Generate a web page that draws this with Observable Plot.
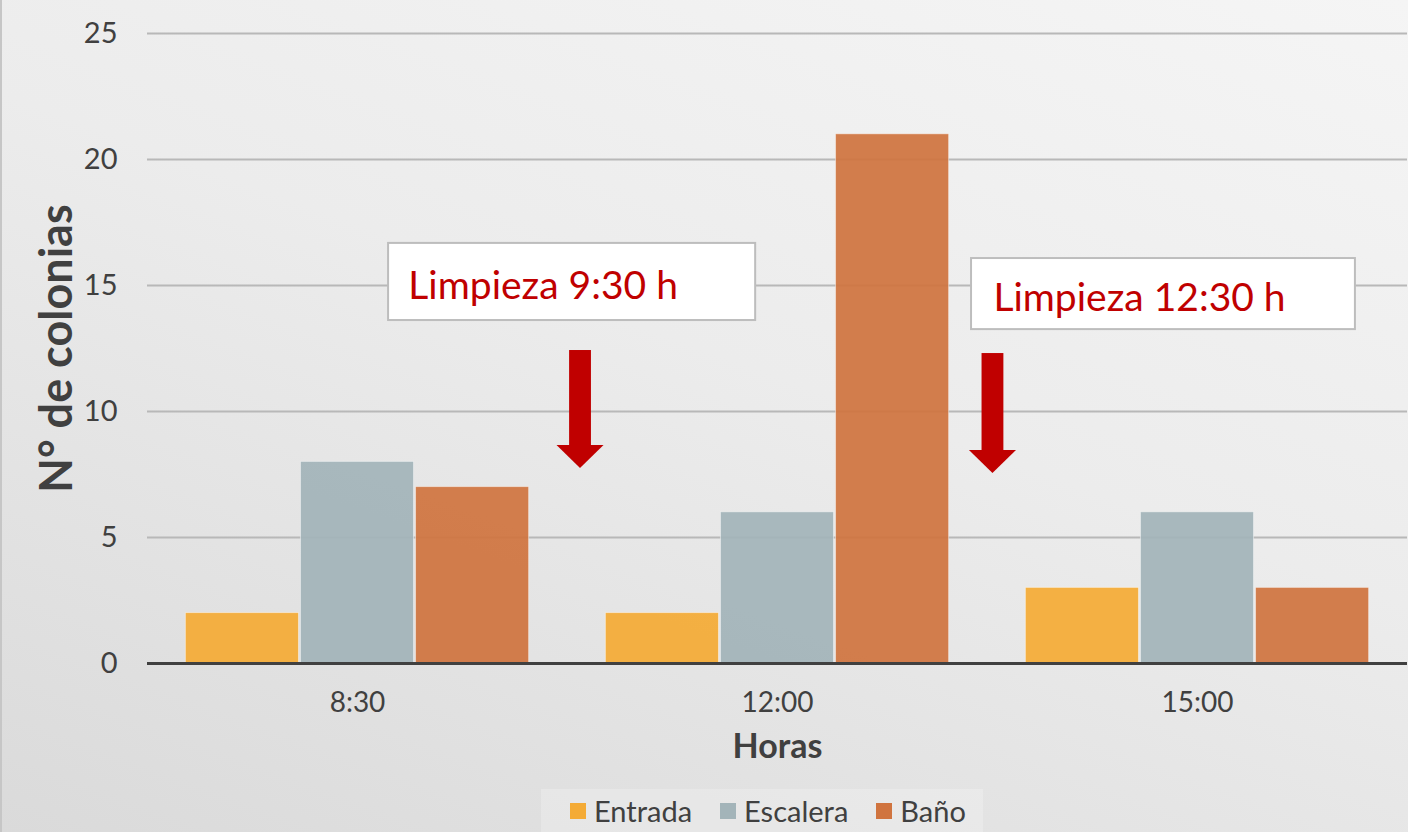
<!DOCTYPE html>
<html lang="es">
<head>
<meta charset="utf-8">
<script src="https://cdn.jsdelivr.net/npm/d3@7"></script>
<script src="https://cdn.jsdelivr.net/npm/@observablehq/plot@0.6"></script>
<style>
  html, body { margin: 0; padding: 0; }
  body {
    width: 1408px;
    height: 832px;
    overflow: hidden;
    font-family: Lato, "Noto Sans", sans-serif;
    color: #404040;
    background: linear-gradient(200deg, #f5f5f5 0%, #ececec 45%, #dadada 100%);
    box-shadow: inset 2px 0 0 #c6c6c6;
  }
  #leyenda {
    margin: 4px 0 0 541px;
    padding-left: 29px;
    box-sizing: border-box;
    width: 442px;
    height: 43px;
    background: rgba(255, 255, 255, 0.22);
    display: flex;
    align-items: center;
    justify-content: flex-start;
    gap: 28px;
    font-size: 29px;
  }
  .item { display: flex; align-items: center; gap: 8px; }
  .muestra { width: 16px; height: 16px; display: inline-block; }
</style>
</head>
<body>
<div id="grafico"></div>
<div id="leyenda"></div>
<script>
// Horas de muestreo y puntos de muestreo
const horas = ["8:30", "12:00", "15:00"];
const lugares = ["Entrada", "Escalera", "Baño"];

// Número de colonias por lugar, en el orden de las horas
const entrada = [2, 2, 3];
const escalera = [8, 6, 6];
const bano = [7, 21, 3];

const colores = ["#f4ab36", "#a3b4b9", "#d0743f"];
const ticksY = [0, 5, 10, 15, 20, 25];

// Avisos de limpieza (posición en unidades de los ejes)
const notas = ["Limpieza 9:30 h", "Limpieza 12:30 h"];
const notaX = [0.121, 1.514];
const notaY = [14.96, 14.5];
const cajaX1 = [0.074, 1.462];
const cajaX2 = [0.948, 2.376];
const cajaY1 = [13.61, 13.25];
const cajaY2 = [16.67, 16.07];

// Flechas hacia abajo entre grupos
const flechaX = [0.531, 1.513];
const flechaInicio = [12.42, 12.3];
const flechaPunta = [7.74, 7.54];

const anchoBarra = 0.274;   // ancho de cada barra dentro del grupo
const medioCuerpo = 0.026;  // medio ancho del cuerpo de la flecha
const medioCabeza = 0.056;  // medio ancho de la cabeza
const largoCabeza = 0.91;   // largo de la cabeza

const series = [entrada, escalera, bano];
const filas = lugares.flatMap((lugar, k) =>
  series[k].map((valor, g) => ({g, k, lugar, hora: horas[g], valor}))
);

const cajas = notas.map((t, i) => ({x1: cajaX1[i], x2: cajaX2[i], y1: cajaY1[i], y2: cajaY2[i]}));
const textos = notas.map((t, i) => ({t, x: notaX[i], y: notaY[i]}));
const cuerpos = flechaX.map((cx, i) => ({
  x1: cx - medioCuerpo, x2: cx + medioCuerpo,
  y1: flechaPunta[i] + largoCabeza, y2: flechaInicio[i]
}));
const cabezas = flechaX.flatMap((cx, i) => {
  const base = flechaPunta[i] + largoCabeza;
  return [
    {id: i, x: cx - medioCabeza, y1: base, y2: base},
    {id: i, x: cx, y1: base, y2: flechaPunta[i]},
    {id: i, x: cx + medioCabeza, y1: base, y2: base}
  ];
});

const chart = Plot.plot({
  width: 1408,
  height: 785,
  marginLeft: 147,
  marginRight: 1,
  marginTop: 33,
  marginBottom: 122,
  style: {background: "transparent", fontFamily: "Lato, 'Noto Sans', sans-serif", color: "#404040"},
  x: {domain: [-0.5, 2.5]},
  y: {domain: [0, 25]},
  color: {domain: lugares, range: colores},
  marks: [
    Plot.gridY(ticksY.slice(1), {stroke: "#b8b8b8", strokeOpacity: 1, strokeWidth: 2}),
    Plot.rectY(filas, {
      x1: d => d.g + (d.k - 1.5) * anchoBarra,
      x2: d => d.g + (d.k - 0.5) * anchoBarra,
      y: "valor",
      fill: "lugar",
      fillOpacity: 0.93,
      stroke: "#ffffff",
      strokeOpacity: 0.45,
      strokeWidth: 1,
      insetLeft: 1,
      insetRight: 1
    }),
    Plot.ruleY([0], {stroke: "#404040", strokeWidth: 3}),
    Plot.axisY(ticksY, {tickSize: 0, tickPadding: 30, fontSize: 29, label: null}),
    Plot.axisX([0, 1, 2], {tickFormat: i => horas[i], tickSize: 0, tickPadding: 29, fontSize: 28, label: null}),
    Plot.text(["N° de colonias"], {
      text: d => d, frameAnchor: "left", textAnchor: "middle", lineAnchor: "middle",
      rotate: -90, dx: -90, fontSize: 45, fontWeight: "bold"
    }),
    Plot.text(["Horas"], {
      text: d => d, frameAnchor: "bottom", textAnchor: "middle", lineAnchor: "middle",
      dy: 84, fontSize: 34, fontWeight: "bold"
    }),
    Plot.rect(cajas, {x1: "x1", x2: "x2", y1: "y1", y2: "y2", fill: "#ffffff", stroke: "#bdbdbd", strokeWidth: 2}),
    Plot.text(textos, {x: "x", y: "y", text: "t", textAnchor: "start", fill: "#c00000", fontSize: 39}),
    Plot.rect(cuerpos, {x1: "x1", x2: "x2", y1: "y1", y2: "y2", fill: "#c00000"}),
    Plot.areaY(cabezas, {x: "x", y1: "y1", y2: "y2", z: "id", fill: "#c00000"})
  ]
});
document.getElementById("grafico").append(chart);

// Leyenda
const leyenda = document.getElementById("leyenda");
lugares.forEach((lugar, k) => {
  const item = document.createElement("span");
  item.className = "item";
  const m = document.createElement("span");
  m.className = "muestra";
  m.style.background = colores[k];
  item.append(m, document.createTextNode(lugar));
  leyenda.append(item);
});
</script>
</body>
</html>
